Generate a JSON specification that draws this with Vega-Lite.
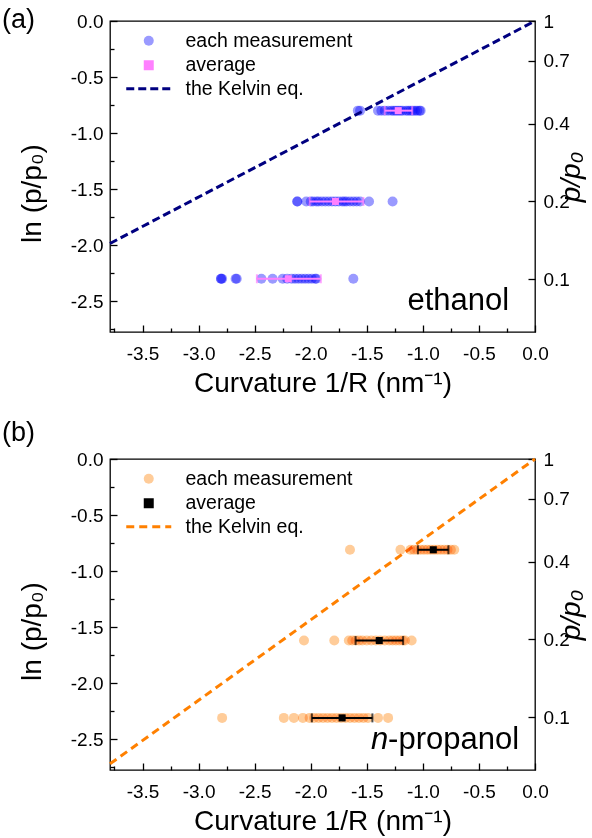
{
  "$schema": "https://vega.github.io/schema/vega-lite/v6.json",
  "background": "white",
  "padding": {"left": 1, "right": 0, "top": 5, "bottom": 0},
  "datasets": {
    "a_pts": [
      {"x": -1.58, "y": -0.8, "series": "each measurement"}, {"x": -1.56, "y": -0.8, "series": "each measurement"},
      {"x": -1.40, "y": -0.8, "series": "each measurement"}, {"x": -1.37, "y": -0.8, "series": "each measurement"},
      {"x": -1.34, "y": -0.8, "series": "each measurement"}, {"x": -1.31, "y": -0.8, "series": "each measurement"},
      {"x": -1.28, "y": -0.8, "series": "each measurement"}, {"x": -1.26, "y": -0.8, "series": "each measurement"},
      {"x": -1.24, "y": -0.8, "series": "each measurement"}, {"x": -1.22, "y": -0.8, "series": "each measurement"},
      {"x": -1.20, "y": -0.8, "series": "each measurement"}, {"x": -1.18, "y": -0.8, "series": "each measurement"},
      {"x": -1.15, "y": -0.8, "series": "each measurement"}, {"x": -1.13, "y": -0.8, "series": "each measurement"},
      {"x": -1.11, "y": -0.8, "series": "each measurement"}, {"x": -1.09, "y": -0.8, "series": "each measurement"},
      {"x": -1.07, "y": -0.8, "series": "each measurement"}, {"x": -1.05, "y": -0.8, "series": "each measurement"},
      {"x": -1.03, "y": -0.8, "series": "each measurement"}, {"x": -1.02, "y": -0.8, "series": "each measurement"},
      {"x": -2.12, "y": -1.61, "series": "each measurement"}, {"x": -2.12, "y": -1.61, "series": "each measurement"},
      {"x": -2.04, "y": -1.61, "series": "each measurement"}, {"x": -2.00, "y": -1.61, "series": "each measurement"},
      {"x": -1.98, "y": -1.61, "series": "each measurement"}, {"x": -1.95, "y": -1.61, "series": "each measurement"},
      {"x": -1.93, "y": -1.61, "series": "each measurement"}, {"x": -1.90, "y": -1.61, "series": "each measurement"},
      {"x": -1.87, "y": -1.61, "series": "each measurement"}, {"x": -1.84, "y": -1.61, "series": "each measurement"},
      {"x": -1.81, "y": -1.61, "series": "each measurement"}, {"x": -1.78, "y": -1.61, "series": "each measurement"},
      {"x": -1.75, "y": -1.61, "series": "each measurement"}, {"x": -1.72, "y": -1.61, "series": "each measurement"},
      {"x": -1.70, "y": -1.61, "series": "each measurement"}, {"x": -1.68, "y": -1.61, "series": "each measurement"},
      {"x": -1.65, "y": -1.61, "series": "each measurement"}, {"x": -1.62, "y": -1.61, "series": "each measurement"},
      {"x": -1.59, "y": -1.61, "series": "each measurement"}, {"x": -1.56, "y": -1.61, "series": "each measurement"},
      {"x": -1.48, "y": -1.61, "series": "each measurement"}, {"x": -1.27, "y": -1.61, "series": "each measurement"},
      {"x": -2.80, "y": -2.30, "series": "each measurement"}, {"x": -2.80, "y": -2.30, "series": "each measurement"},
      {"x": -2.79, "y": -2.30, "series": "each measurement"}, {"x": -2.67, "y": -2.30, "series": "each measurement"},
      {"x": -2.66, "y": -2.30, "series": "each measurement"}, {"x": -2.44, "y": -2.30, "series": "each measurement"},
      {"x": -2.34, "y": -2.30, "series": "each measurement"}, {"x": -2.25, "y": -2.30, "series": "each measurement"},
      {"x": -2.21, "y": -2.30, "series": "each measurement"}, {"x": -2.17, "y": -2.30, "series": "each measurement"},
      {"x": -2.14, "y": -2.30, "series": "each measurement"}, {"x": -2.11, "y": -2.30, "series": "each measurement"},
      {"x": -2.08, "y": -2.30, "series": "each measurement"}, {"x": -2.05, "y": -2.30, "series": "each measurement"},
      {"x": -2.02, "y": -2.30, "series": "each measurement"}, {"x": -1.99, "y": -2.30, "series": "each measurement"},
      {"x": -1.96, "y": -2.30, "series": "each measurement"}, {"x": -1.95, "y": -2.30, "series": "each measurement"},
      {"x": -1.62, "y": -2.30, "series": "each measurement"}
    ],
    "a_avg": [
      {"x": -1.22, "y": -0.80, "lo": -1.34, "hi": -1.095, "series": "average"},
      {"x": -1.78, "y": -1.61, "lo": -2.01, "hi": -1.53, "series": "average"},
      {"x": -2.20, "y": -2.30, "lo": -2.48, "hi": -1.91, "series": "average"}
    ],
    "a_kel": [
      {"x": -3.79, "y": -1.985, "series": "the Kelvin eq."},
      {"x": 0, "y": 0, "series": "the Kelvin eq."}
    ],
    "b_pts": [
      {"x": -1.65, "y": -0.81, "series": "each measurement"}, {"x": -1.20, "y": -0.81, "series": "each measurement"},
      {"x": -1.11, "y": -0.81, "series": "each measurement"}, {"x": -1.08, "y": -0.81, "series": "each measurement"},
      {"x": -1.05, "y": -0.81, "series": "each measurement"}, {"x": -1.02, "y": -0.81, "series": "each measurement"},
      {"x": -0.99, "y": -0.81, "series": "each measurement"}, {"x": -0.96, "y": -0.81, "series": "each measurement"},
      {"x": -0.93, "y": -0.81, "series": "each measurement"}, {"x": -0.90, "y": -0.81, "series": "each measurement"},
      {"x": -0.87, "y": -0.81, "series": "each measurement"}, {"x": -0.84, "y": -0.81, "series": "each measurement"},
      {"x": -0.81, "y": -0.81, "series": "each measurement"}, {"x": -0.78, "y": -0.81, "series": "each measurement"},
      {"x": -0.75, "y": -0.81, "series": "each measurement"}, {"x": -0.72, "y": -0.81, "series": "each measurement"},
      {"x": -2.06, "y": -1.62, "series": "each measurement"}, {"x": -1.79, "y": -1.62, "series": "each measurement"},
      {"x": -1.66, "y": -1.62, "series": "each measurement"}, {"x": -1.63, "y": -1.62, "series": "each measurement"},
      {"x": -1.60, "y": -1.62, "series": "each measurement"}, {"x": -1.57, "y": -1.62, "series": "each measurement"},
      {"x": -1.54, "y": -1.62, "series": "each measurement"}, {"x": -1.50, "y": -1.62, "series": "each measurement"},
      {"x": -1.46, "y": -1.62, "series": "each measurement"}, {"x": -1.42, "y": -1.62, "series": "each measurement"},
      {"x": -1.38, "y": -1.62, "series": "each measurement"}, {"x": -1.34, "y": -1.62, "series": "each measurement"},
      {"x": -1.30, "y": -1.62, "series": "each measurement"}, {"x": -1.27, "y": -1.62, "series": "each measurement"},
      {"x": -1.24, "y": -1.62, "series": "each measurement"}, {"x": -1.21, "y": -1.62, "series": "each measurement"},
      {"x": -1.18, "y": -1.62, "series": "each measurement"}, {"x": -1.16, "y": -1.62, "series": "each measurement"},
      {"x": -1.10, "y": -1.62, "series": "each measurement"},
      {"x": -2.79, "y": -2.31, "series": "each measurement"}, {"x": -2.24, "y": -2.31, "series": "each measurement"},
      {"x": -2.15, "y": -2.31, "series": "each measurement"}, {"x": -2.07, "y": -2.31, "series": "each measurement"},
      {"x": -2.01, "y": -2.31, "series": "each measurement"}, {"x": -1.97, "y": -2.31, "series": "each measurement"},
      {"x": -1.93, "y": -2.31, "series": "each measurement"}, {"x": -1.89, "y": -2.31, "series": "each measurement"},
      {"x": -1.85, "y": -2.31, "series": "each measurement"}, {"x": -1.81, "y": -2.31, "series": "each measurement"},
      {"x": -1.77, "y": -2.31, "series": "each measurement"}, {"x": -1.73, "y": -2.31, "series": "each measurement"},
      {"x": -1.69, "y": -2.31, "series": "each measurement"}, {"x": -1.65, "y": -2.31, "series": "each measurement"},
      {"x": -1.61, "y": -2.31, "series": "each measurement"}, {"x": -1.57, "y": -2.31, "series": "each measurement"},
      {"x": -1.53, "y": -2.31, "series": "each measurement"}, {"x": -1.49, "y": -2.31, "series": "each measurement"},
      {"x": -1.40, "y": -2.31, "series": "each measurement"}, {"x": -1.31, "y": -2.31, "series": "each measurement"}
    ],
    "b_avg": [
      {"x": -0.907, "y": -0.81, "lo": -1.044, "hi": -0.772, "series": "average"},
      {"x": -1.389, "y": -1.62, "lo": -1.60, "hi": -1.176, "series": "average"},
      {"x": -1.72, "y": -2.31, "lo": -1.99, "hi": -1.45, "series": "average"}
    ],
    "b_kel": [
      {"x": -3.79, "y": -2.72, "series": "the Kelvin eq."},
      {"x": 0, "y": 0, "series": "the Kelvin eq."}
    ],
    "p_ticks": [{"p": 0.1}, {"p": 0.2}, {"p": 0.4}, {"p": 0.7}, {"p": 1}]
  },
  "vconcat": [
    {
      "width": 425,
      "height": 311,
      "title": {"text": "(a)", "dx": -108, "dy": 26},
      "layer": [
        {
          "layer": [
            {
              "data": {"name": "a_kel"},
              "mark": {"type": "line", "strokeWidth": 3},
              "encoding": {
                "x": {"field": "x", "type": "quantitative", "scale": {"domain": [-3.79, 0], "nice": false, "zero": false},
                  "axis": {"orient": "bottom", "values": [-3.5, -3, -2.5, -2, -1.5, -1, -0.5, 0], "format": ".1f", "labelExpr": "replace(datum.label, '−', '-')", "tickSize": -7,
                    "labelPadding": 19, "title": "Curvature 1/R (nm⁻¹)", "titlePadding": 6}},
                "y": {"field": "y", "type": "quantitative", "scale": {"domain": [-2.775, 0], "nice": false, "zero": false},
                  "axis": {"orient": "left", "values": [-2.5, -2, -1.5, -1, -0.5, 0], "format": ".1f", "labelExpr": "replace(datum.label, '−', '-')", "tickSize": -7,
                    "labelPadding": 14, "title": "ln (p/p₀)", "titlePadding": 24, "titleY": 172}},
                "stroke": {"field": "series", "type": "nominal", "scale": {"domain": ["each measurement", "average", "the Kelvin eq."], "range": ["transparent", "transparent", "#000080"]}, "legend": {"title": null}},
                "strokeDash": {"field": "series", "type": "nominal", "scale": {"domain": ["each measurement", "average", "the Kelvin eq."], "range": [[1, 0], [1, 0], [8, 4]]}, "legend": {"title": null}}
              }
            },
            {
              "data": {"name": "a_pts"},
              "mark": {"type": "point", "filled": true, "size": 100, "opacity": 1, "blend": "multiply"},
              "encoding": {
                "x": {"field": "x", "type": "quantitative", "axis": null},
                "y": {"field": "y", "type": "quantitative", "axis": null},
                "fill": {"field": "series", "type": "nominal", "scale": {"domain": ["each measurement", "average", "the Kelvin eq."], "range": ["#9a9aff", "#ff80ff", "transparent"]}, "legend": {"title": null}},
                "shape": {"field": "series", "type": "nominal", "scale": {"domain": ["each measurement", "average", "the Kelvin eq."], "range": ["circle", "square", "M-4.5,0H4.5"]}, "legend": {"title": null}}
              }
            },
            {
              "data": {"name": "a_avg"},
              "mark": {"type": "rule", "color": "#ff80ff", "strokeWidth": 2},
              "encoding": {
                "x": {"field": "lo", "type": "quantitative", "axis": null},
                "x2": {"field": "hi"},
                "y": {"field": "y", "type": "quantitative", "axis": null}
              }
            },
            {
              "data": {"name": "a_avg"},
              "mark": {"type": "tick", "orient": "vertical", "color": "#ff80ff", "size": 9, "thickness": 2},
              "encoding": {
                "x": {"field": "lo", "type": "quantitative", "axis": null},
                "y": {"field": "y", "type": "quantitative", "axis": null}
              }
            },
            {
              "data": {"name": "a_avg"},
              "mark": {"type": "tick", "orient": "vertical", "color": "#ff80ff", "size": 9, "thickness": 2},
              "encoding": {
                "x": {"field": "hi", "type": "quantitative",
                  "axis": {"orient": "top", "offset": -311, "values": [-3.75, -3.25, -2.75, -2.25, -1.75, -1.25, -0.75, -0.25], "labels": false, "domain": false, "title": null, "tickSize": 4}},
                "y": {"field": "y", "type": "quantitative",
                  "axis": {"orient": "right", "offset": -425, "values": [-2.75, -2.25, -1.75, -1.25, -0.75, -0.25], "labels": false, "domain": false, "title": null, "tickSize": 4}}
              }
            },
            {
              "data": {"name": "a_avg"},
              "mark": {"type": "point", "filled": true, "size": 50, "opacity": 1},
              "encoding": {
                "x": {"field": "x", "type": "quantitative", "axis": null},
                "y": {"field": "y", "type": "quantitative", "axis": null},
                "fill": {"field": "series", "type": "nominal", "legend": {"title": null}},
                "shape": {"field": "series", "type": "nominal", "legend": {"title": null}}
              }
            },
            {
              "data": {"values": [{}]},
              "mark": {"type": "text", "align": "right", "baseline": "alphabetic", "fontSize": 31, "font": "Liberation Sans", "color": "#000"},
              "encoding": {
                "x": {"datum": -0.23, "axis": null},
                "y": {"datum": -2.58, "axis": null},
                "text": {"value": "ethanol"}
              }
            }
          ],
          "resolve": {"axis": {"x": "independent", "y": "independent"}}
        },
        {
          "data": {"name": "p_ticks"},
          "mark": {"type": "point", "opacity": 0},
          "encoding": {
            "y": {"field": "p", "type": "quantitative", "scale": {"type": "log", "domain": [0.06235, 1], "nice": false},
              "axis": {"orient": "right", "values": [0.1, 0.2, 0.4, 0.7, 1], "format": ".1~f", "tickSize": -7, "labelPadding": 15,
                "title": "p/p₀", "titleFontStyle": "italic", "titleAngle": 270, "titlePadding": 16}}
          }
        }
      ],
      "resolve": {"scale": {"y": "independent"}}
    },
    {
      "width": 425,
      "height": 311,
      "title": {"text": "(b)", "dx": -108, "dy": 1},
      "layer": [
        {
          "layer": [
            {
              "data": {"name": "b_kel"},
              "mark": {"type": "line", "strokeWidth": 3},
              "encoding": {
                "x": {"field": "x", "type": "quantitative", "scale": {"domain": [-3.79, 0], "nice": false, "zero": false},
                  "axis": {"orient": "bottom", "values": [-3.5, -3, -2.5, -2, -1.5, -1, -0.5, 0], "format": ".1f", "labelExpr": "replace(datum.label, '−', '-')", "tickSize": -7,
                    "labelPadding": 19, "title": "Curvature 1/R (nm⁻¹)", "titlePadding": 6}},
                "y": {"field": "y", "type": "quantitative", "scale": {"domain": [-2.775, 0], "nice": false, "zero": false},
                  "axis": {"orient": "left", "values": [-2.5, -2, -1.5, -1, -0.5, 0], "format": ".1f", "labelExpr": "replace(datum.label, '−', '-')", "tickSize": -7,
                    "labelPadding": 14, "title": "ln (p/p₀)", "titlePadding": 24, "titleY": 172}},
                "stroke": {"field": "series", "type": "nominal", "scale": {"domain": ["each measurement", "average", "the Kelvin eq."], "range": ["transparent", "transparent", "#ff8000"]}, "legend": {"title": null}},
                "strokeDash": {"field": "series", "type": "nominal", "scale": {"domain": ["each measurement", "average", "the Kelvin eq."], "range": [[1, 0], [1, 0], [8, 5]]}, "legend": {"title": null}}
              }
            },
            {
              "data": {"name": "b_pts"},
              "mark": {"type": "point", "filled": true, "size": 100, "opacity": 1, "blend": "multiply"},
              "encoding": {
                "x": {"field": "x", "type": "quantitative", "axis": null},
                "y": {"field": "y", "type": "quantitative", "axis": null},
                "fill": {"field": "series", "type": "nominal", "scale": {"domain": ["each measurement", "average", "the Kelvin eq."], "range": ["#ffcc99", "#000000", "transparent"]}, "legend": {"title": null}},
                "shape": {"field": "series", "type": "nominal", "scale": {"domain": ["each measurement", "average", "the Kelvin eq."], "range": ["circle", "square", "M-4.5,0H4.5"]}, "legend": {"title": null}}
              }
            },
            {
              "data": {"name": "b_avg"},
              "mark": {"type": "rule", "color": "#000000", "strokeWidth": 2},
              "encoding": {
                "x": {"field": "lo", "type": "quantitative", "axis": null},
                "x2": {"field": "hi"},
                "y": {"field": "y", "type": "quantitative", "axis": null}
              }
            },
            {
              "data": {"name": "b_avg"},
              "mark": {"type": "tick", "orient": "vertical", "color": "#000000", "size": 9, "thickness": 2},
              "encoding": {
                "x": {"field": "lo", "type": "quantitative", "axis": null},
                "y": {"field": "y", "type": "quantitative", "axis": null}
              }
            },
            {
              "data": {"name": "b_avg"},
              "mark": {"type": "tick", "orient": "vertical", "color": "#000000", "size": 9, "thickness": 2},
              "encoding": {
                "x": {"field": "hi", "type": "quantitative",
                  "axis": {"orient": "top", "offset": -311, "values": [-3.75, -3.25, -2.75, -2.25, -1.75, -1.25, -0.75, -0.25], "labels": false, "domain": false, "title": null, "tickSize": 4}},
                "y": {"field": "y", "type": "quantitative",
                  "axis": {"orient": "right", "offset": -425, "values": [-2.75, -2.25, -1.75, -1.25, -0.75, -0.25], "labels": false, "domain": false, "title": null, "tickSize": 4}}
              }
            },
            {
              "data": {"name": "b_avg"},
              "mark": {"type": "point", "filled": true, "size": 50, "opacity": 1},
              "encoding": {
                "x": {"field": "x", "type": "quantitative", "axis": null},
                "y": {"field": "y", "type": "quantitative", "axis": null},
                "fill": {"field": "series", "type": "nominal", "legend": {"title": null}},
                "shape": {"field": "series", "type": "nominal", "legend": {"title": null}}
              }
            },
            {
              "data": {"values": [{}]},
              "mark": {"type": "text", "align": "left", "baseline": "alphabetic", "fontSize": 31, "font": "Liberation Sans", "fontStyle": "italic", "color": "#000"},
              "encoding": {
                "x": {"datum": -1.462, "axis": null},
                "y": {"datum": -2.59, "axis": null},
                "text": {"value": "n"}
              }
            },
            {
              "data": {"values": [{}]},
              "mark": {"type": "text", "align": "left", "baseline": "alphabetic", "fontSize": 31, "font": "Liberation Sans", "color": "#000"},
              "encoding": {
                "x": {"datum": -1.31, "axis": null},
                "y": {"datum": -2.59, "axis": null},
                "text": {"value": "-propanol"}
              }
            }
          ],
          "resolve": {"axis": {"x": "independent", "y": "independent"}}
        },
        {
          "data": {"name": "p_ticks"},
          "mark": {"type": "point", "opacity": 0},
          "encoding": {
            "y": {"field": "p", "type": "quantitative", "scale": {"type": "log", "domain": [0.06235, 1], "nice": false},
              "axis": {"orient": "right", "values": [0.1, 0.2, 0.4, 0.7, 1], "format": ".1~f", "tickSize": -7, "labelPadding": 15,
                "title": "p/p₀", "titleFontStyle": "italic", "titleAngle": 270, "titlePadding": 16}}
          }
        }
      ],
      "resolve": {"scale": {"y": "independent"}}
    }
  ],
  "spacing": 20,
  "resolve": {
    "scale": {"fill": "independent", "stroke": "independent", "strokeDash": "independent", "shape": "independent"},
    "legend": {"fill": "independent", "stroke": "independent", "strokeDash": "independent", "shape": "independent"}
  },
  "config": {
    "font": "Liberation Sans",
    "view": {"stroke": "#000", "strokeWidth": 1.3},
    "axis": {"domain": false, "grid": false, "labelFont": "Liberation Sans", "labelFontSize": 19, "labelColor": "#000",
      "titleFont": "Liberation Sans", "titleFontSize": 28, "titleFontWeight": "normal", "titleColor": "#000",
      "tickColor": "#000", "tickWidth": 1.3, "labelOverlap": false, "labelFlush": false, "labelBound": false},
    "legend": {"labelFont": "Liberation Sans", "labelColor": "#000", "labelFontSize": 19.5, "labelLimit": 400, "orient": "top-left", "offset": 10, "padding": 0,
      "rowPadding": 1.5, "labelOffset": 27, "symbolOffset": 19, "symbolSize": 100, "symbolStrokeWidth": 3, "symbolOpacity": 1},
    "title": {"font": "Liberation Sans", "fontSize": 27, "fontWeight": "normal", "anchor": "start", "frame": "group", "color": "#000"}
  }
}
